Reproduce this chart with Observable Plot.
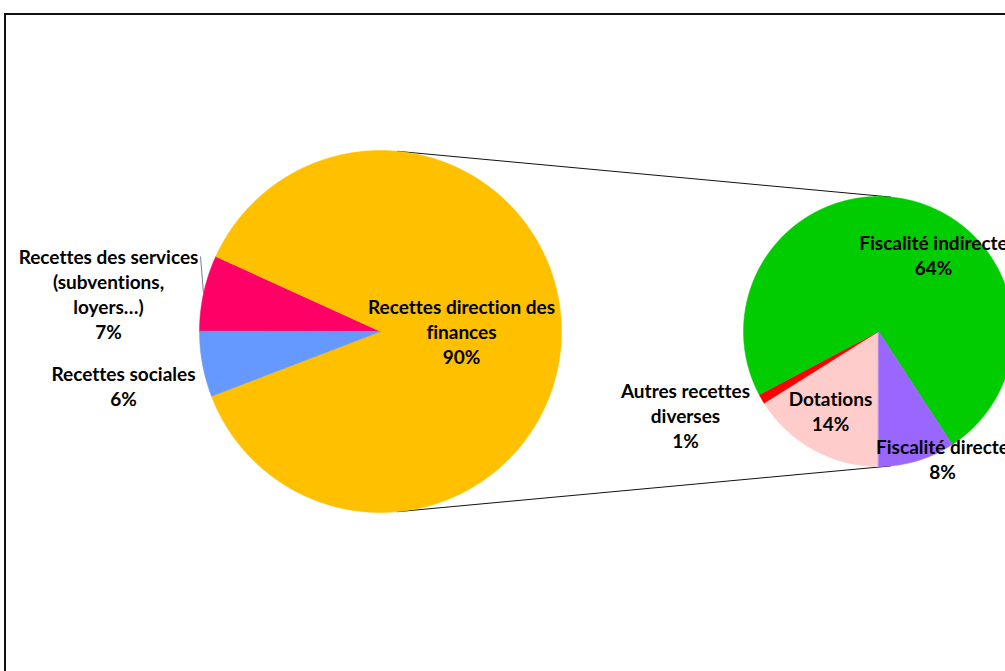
<!DOCTYPE html>
<html>
<head>
<meta charset="utf-8">
<script src="https://cdn.jsdelivr.net/npm/d3@7"></script>
<script src="https://cdn.jsdelivr.net/npm/@observablehq/plot@0.6"></script>
<style>
  html, body { margin: 0; padding: 0; background: #fff; overflow: hidden; }
  svg text { font-variant-ligatures: none; font-feature-settings: "liga" 0, "clig" 0; }
</style>
</head>
<body>
<div id="chart"></div>
<script>
// Main pie: where revenue comes from (shares in %)
const mainLabels = ["Recettes des services\n(subventions,\nloyers…)", "Recettes direction des\nfinances", "Recettes sociales"];
const mainValues = [7, 90, 6];
const mainColors = ["#FF0066", "#FFC000", "#6699FF"];

// Secondary pie: breakdown of the finance department's share (shares in %)
const subLabels = ["Dotations", "Autres recettes\ndiverses", "Fiscalité indirecte", "Fiscalité directe"];
const subValues = [14, 1, 64, 8];
const subColors = ["#FFCCCC", "#FF0000", "#00CC00", "#9966FF"];

const W = 1005, H = 671;

// Pie geometry (pixel layout space)
const mainPie = {cx: 380, cy: 331, r: 181, start: 1.5 * Math.PI};
const subPie  = {cx: 878, cy: 331, r: 135, start: Math.PI};

// Label block centres for each slice
const mainLabelPos = [[108, 295.5], [461, 333], [123, 388]];
const subLabelPos  = [[830, 412.5], [685, 417.5], [933, 257], [942, 460.5]];

// Build closed wedge outlines from the values, clockwise from the start angle
function wedges(labels, values, colors, pie) {
  const total = d3.sum(values);
  const pts = [];
  let a = pie.start;
  values.forEach((v, i) => {
    const span = (v / total) * 2 * Math.PI;
    const n = Math.max(2, Math.ceil(span / (Math.PI / 360)));
    pts.push({slice: labels[i], color: colors[i], x: pie.cx, y: pie.cy});
    for (let k = 0; k <= n; k++) {
      const t = a + (span * k) / n;
      pts.push({slice: labels[i], color: colors[i], x: pie.cx + pie.r * Math.sin(t), y: pie.cy - pie.r * Math.cos(t)});
    }
    a += span;
  });
  return pts;
}

function labelRows(labels, values, pos) {
  return labels.map((l, i) => ({text: `${l}\n${values[i]}%`, x: pos[i][0], y: pos[i][1]}));
}

// External tangents joining the two pies
const alpha = Math.asin((mainPie.r - subPie.r) / (subPie.cx - mainPie.cx));
const connectors = [1, -1].map(s => ({
  x1: mainPie.cx + mainPie.r * Math.sin(alpha),
  y1: mainPie.cy - s * mainPie.r * Math.cos(alpha),
  x2: subPie.cx + subPie.r * Math.sin(alpha),
  y2: subPie.cy - s * subPie.r * Math.cos(alpha)
}));

const slices = [...wedges(mainLabels, mainValues, mainColors, mainPie), ...wedges(subLabels, subValues, subColors, subPie)];
const labels = [...labelRows(mainLabels, mainValues, mainLabelPos), ...labelRows(subLabels, subValues, subLabelPos)];

const FS = 19;

const chart = Plot.plot({
  width: W,
  height: H,
  margin: 0,
  x: {domain: [0, W], range: [0, W], axis: null},
  y: {domain: [0, H], range: [0, H], axis: null},
  color: {type: "identity"},
  style: {fontFamily: "Lato, 'Open Sans', sans-serif", background: "#fff", overflow: "hidden"},
  marks: [
    // chart area frame
    Plot.rect([{}], {x1: 5, y1: 14, x2: W + 10, y2: H + 10, fill: "none", stroke: "#111", strokeWidth: 2}),
    Plot.link(connectors, {x1: "x1", y1: "y1", x2: "x2", y2: "y2", stroke: "#111", strokeWidth: 1}),
    Plot.line(slices, {x: "x", y: "y", z: "slice", fill: "color", stroke: "color", strokeWidth: 0.5, curve: "linear-closed"}),
    // leader line for the services label
    Plot.link([{}], {x1: 200, y1: 256, x2: 203, y2: 293, stroke: "#808080", strokeWidth: 1}),
    Plot.text(labels, {x: "x", y: "y", text: "text", fontSize: FS, fontWeight: "bold", lineHeight: 25 / FS, lineAnchor: "middle", textAnchor: "middle", fill: "#000", dy: -3})
  ]
});

document.getElementById("chart").append(chart);
</script>
</body>
</html>
